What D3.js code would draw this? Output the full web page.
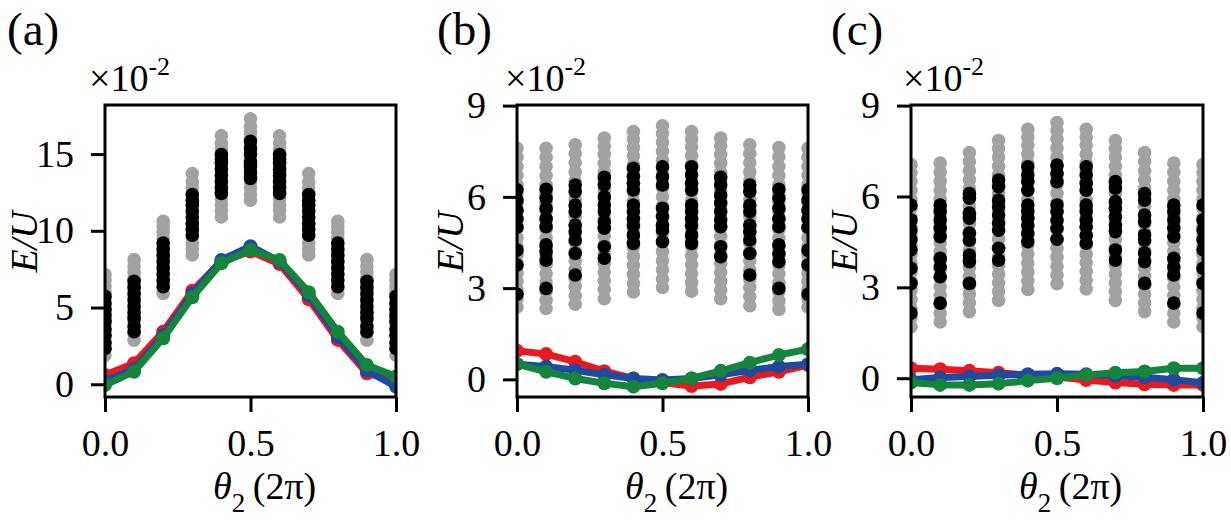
<!doctype html>
<html lang="en">
<head>
  <meta charset="utf-8">
  <script src="https://d3js.org/d3.v7.min.js"></script>
  <style>
    body { margin: 0; background: #fff; }
    text { font-family: "Liberation Serif", "DejaVu Serif", serif; }
  </style>
</head>
<body>
<script>
// theta_2 positions (units of 2 pi)
var theta = [0.0, 0.1, 0.2, 0.3, 0.4, 0.5, 0.6, 0.7, 0.8, 0.9, 1.0];

// ---- panel (a) ----
var grayA = [
  [1.9, 2.3, 2.7, 3.1, 3.5, 3.9, 4.3, 4.8, 5.2, 5.6, 6.0, 6.4, 6.8, 7.15],
  [2.87, 3.3, 3.7, 4.1, 4.5, 4.9, 5.3, 5.7, 6.1, 6.5, 6.9, 7.3, 7.7, 8.13],
  [5.92, 6.3, 6.7, 7.1, 7.5, 7.9, 8.3, 8.7, 9.1, 9.5, 9.9, 10.3, 10.62],
  [8.42, 8.8, 9.2, 9.6, 10.0, 10.4, 10.8, 11.2, 11.6, 12.0, 12.4, 12.8, 13.2, 13.73],
  [10.9, 11.3, 11.7, 12.1, 12.5, 12.9, 13.3, 13.7, 14.1, 14.5, 14.9, 15.3, 15.7, 16.2],
  [12.0, 12.4, 12.8, 13.2, 13.6, 14.0, 14.4, 14.8, 15.2, 15.6, 16.0, 16.4, 16.8, 17.3],
  [10.9, 11.35, 11.7, 12.1, 12.55, 12.9, 13.3, 13.75, 14.1, 14.5, 14.95, 15.3, 15.7, 16.2],
  [8.42, 8.8, 9.2, 9.65, 10.0, 10.4, 10.85, 11.2, 11.6, 12.0, 12.45, 12.8, 13.2, 13.73],
  [5.92, 6.3, 6.75, 7.1, 7.5, 7.95, 8.3, 8.7, 9.1, 9.5, 9.9, 10.3, 10.62],
  [2.87, 3.3, 3.7, 4.15, 4.5, 4.9, 5.35, 5.7, 6.1, 6.5, 6.9, 7.3, 7.7, 8.13],
  [1.9, 2.3, 2.7, 3.1, 3.55, 3.9, 4.3, 4.8, 5.2, 5.6, 6.0, 6.4, 6.8, 7.15]
];
var blackA = [
  [2.33, 2.7, 3.2, 3.6, 4.1, 4.5, 4.9, 5.3, 5.73],
  [3.42, 3.8, 4.3, 4.7, 5.1, 5.5, 5.9, 6.3, 6.71],
  [6.36, 6.8, 7.2, 7.6, 8.0, 8.4, 8.8, 9.21],
  [9.72, 10.1, 10.5, 10.9, 11.3, 11.7, 12.0, 12.37],
  [12.44, 12.8, 13.2, 13.6, 14.0, 14.4, 14.7, 14.97],
  [13.42, 13.8, 14.2, 14.5, 15.0, 15.4, 15.84],
  [12.44, 12.8, 13.2, 13.6, 14.0, 14.4, 14.7, 14.97],
  [9.72, 10.1, 10.5, 10.9, 11.3, 11.7, 12.0, 12.37],
  [6.36, 6.8, 7.2, 7.6, 8.0, 8.4, 8.8, 9.21],
  [3.42, 3.8, 4.3, 4.7, 5.1, 5.5, 5.9, 6.3, 6.71],
  [2.33, 2.7, 3.2, 3.6, 4.1, 4.5, 4.9, 5.3, 5.73]
];
var redA   = [0.6, 1.37, 3.43, 6.1, 8.0, 8.65, 7.83, 5.54, 2.89, 0.72, 0.17];
var blueA  = [0.2, 1.0, 3.2, 5.9, 8.1, 9.0, 8.0, 5.8, 3.1, 0.9, -0.15];
var greenA = [-0.05, 0.82, 3.0, 5.67, 7.89, 8.75, 8.1, 6.0, 3.43, 1.26, 0.5];

// ---- panel (b) ----
var grayB = [
  [2.38, 2.65, 2.95, 3.22, 3.5, 3.8, 4.08, 4.37, 4.66, 4.95, 5.24, 5.52, 5.8, 6.1, 6.4, 6.7, 7.0, 7.3, 7.6],
  [2.33, 2.6, 2.9, 3.2, 3.48, 3.78, 4.06, 4.35, 4.65, 4.94, 5.22, 5.52, 5.8, 6.1, 6.4, 6.7, 7.0, 7.3, 7.6],
  [2.47, 2.75, 3.05, 3.33, 3.62, 3.9, 4.2, 4.5, 4.78, 5.06, 5.35, 5.64, 5.93, 6.22, 6.52, 6.82, 7.12, 7.42, 7.71],
  [2.65, 2.95, 3.24, 3.53, 3.82, 4.12, 4.42, 4.72, 5.0, 5.3, 5.6, 5.9, 6.2, 6.5, 6.8, 7.1, 7.4, 7.67, 7.93],
  [2.87, 3.15, 3.45, 3.75, 4.05, 4.35, 4.65, 4.95, 5.25, 5.55, 5.85, 6.15, 6.45, 6.75, 7.05, 7.35, 7.62, 7.9, 8.15],
  [3.02, 3.3, 3.6, 3.9, 4.2, 4.5, 4.8, 5.1, 5.4, 5.7, 6.0, 6.3, 6.6, 6.9, 7.2, 7.5, 7.8, 8.08, 8.34],
  [2.9, 3.18, 3.47, 3.77, 4.06, 4.36, 4.66, 4.96, 5.26, 5.56, 5.86, 6.16, 6.46, 6.76, 7.06, 7.36, 7.64, 7.9, 8.15],
  [2.65, 2.94, 3.23, 3.52, 3.82, 4.12, 4.42, 4.71, 5.0, 5.3, 5.6, 5.9, 6.2, 6.5, 6.8, 7.1, 7.4, 7.68, 7.93],
  [2.42, 2.72, 3.02, 3.3, 3.6, 3.9, 4.18, 4.48, 4.77, 5.06, 5.35, 5.64, 5.93, 6.22, 6.52, 6.82, 7.12, 7.42, 7.71],
  [2.3, 2.58, 2.88, 3.18, 3.47, 3.76, 4.05, 4.34, 4.64, 4.93, 5.22, 5.51, 5.8, 6.1, 6.4, 6.7, 7.0, 7.32, 7.62],
  [2.38, 2.65, 2.95, 3.22, 3.5, 3.8, 4.08, 4.37, 4.66, 4.95, 5.24, 5.52, 5.8, 6.1, 6.4, 6.7, 7.0, 7.3, 7.6]
];
var blackB = [
  [2.8, 3.76, 4.25, 5.0, 5.29, 5.57, 5.9, 6.23],
  [2.99, 3.92, 4.2, 4.42, 5.02, 5.29, 5.62, 5.95, 6.25],
  [3.43, 4.14, 4.58, 4.86, 5.07, 5.51, 5.73, 6.17, 6.39],
  [3.98, 4.36, 4.97, 5.18, 5.51, 5.73, 6.0, 6.39, 6.64],
  [4.47, 4.75, 5.07, 5.29, 5.51, 5.73, 6.23, 6.45, 6.67, 6.94],
  [4.53, 4.91, 5.07, 5.35, 5.62, 6.39, 6.67, 6.99],
  [4.47, 4.75, 5.07, 5.29, 5.51, 5.73, 6.23, 6.45, 6.72, 6.99],
  [4.03, 4.36, 5.02, 5.24, 5.51, 5.79, 6.06, 6.39, 6.64],
  [3.43, 4.14, 4.58, 4.86, 5.07, 5.51, 5.73, 6.17, 6.39],
  [2.99, 3.87, 4.14, 4.42, 5.02, 5.29, 5.62, 5.95, 6.25],
  [2.8, 3.76, 4.25, 5.0, 5.29, 5.57, 5.9, 6.23]
];
var redB   = [0.94, 0.83, 0.58, 0.27, 0.03, -0.11, -0.22, -0.15, 0.07, 0.25, 0.47];
var blueB  = [0.5, 0.42, 0.3, 0.15, 0.03, -0.02, 0.03, 0.15, 0.3, 0.42, 0.5];
var greenB = [0.5, 0.25, 0.03, -0.13, -0.24, -0.13, 0.03, 0.28, 0.55, 0.8, 0.99];

// ---- panel (c) ----
var grayC = [
  [1.7, 2.0, 2.3, 2.6, 2.9, 3.2, 3.5, 3.8, 4.1, 4.4, 4.7, 5.0, 5.3, 5.6, 5.9, 6.2, 6.5, 6.78, 7.05],
  [1.86, 2.15, 2.44, 2.73, 3.02, 3.31, 3.6, 3.89, 4.18, 4.47, 4.76, 5.05, 5.34, 5.63, 5.92, 6.21, 6.5, 6.8, 7.1],
  [2.2, 2.49, 2.78, 3.07, 3.36, 3.65, 3.94, 4.23, 4.52, 4.81, 5.1, 5.39, 5.68, 5.97, 6.26, 6.55, 6.85, 7.15, 7.45],
  [2.57, 2.86, 3.15, 3.44, 3.73, 4.02, 4.31, 4.6, 4.9, 5.2, 5.5, 5.8, 6.1, 6.4, 6.7, 7.0, 7.3, 7.58, 7.85],
  [2.93, 3.22, 3.51, 3.8, 4.1, 4.4, 4.7, 5.0, 5.3, 5.6, 5.9, 6.2, 6.5, 6.8, 7.1, 7.4, 7.7, 7.96, 8.22],
  [3.12, 3.41, 3.7, 4.0, 4.3, 4.6, 4.9, 5.2, 5.5, 5.8, 6.1, 6.4, 6.7, 7.0, 7.3, 7.6, 7.9, 8.18, 8.44],
  [2.95, 3.24, 3.53, 3.82, 4.1, 4.4, 4.7, 5.0, 5.3, 5.6, 5.9, 6.2, 6.5, 6.8, 7.1, 7.4, 7.7, 7.96, 8.22],
  [2.57, 2.86, 3.15, 3.44, 3.73, 4.02, 4.31, 4.6, 4.9, 5.2, 5.5, 5.8, 6.1, 6.4, 6.7, 7.0, 7.3, 7.58, 7.85],
  [2.2, 2.49, 2.78, 3.07, 3.36, 3.65, 3.94, 4.23, 4.52, 4.81, 5.1, 5.39, 5.68, 5.97, 6.26, 6.55, 6.85, 7.15, 7.45],
  [1.86, 2.15, 2.44, 2.73, 3.02, 3.31, 3.6, 3.89, 4.18, 4.47, 4.76, 5.05, 5.34, 5.63, 5.92, 6.21, 6.5, 6.8, 7.1],
  [1.7, 2.0, 2.3, 2.6, 2.9, 3.2, 3.5, 3.8, 4.1, 4.4, 4.7, 5.0, 5.3, 5.6, 5.9, 6.2, 6.5, 6.78, 7.05]
];
var blackC = [
  [2.15, 3.13, 3.63, 4.24, 4.57, 4.89, 5.22, 5.72],
  [2.48, 3.35, 3.68, 3.96, 4.67, 4.95, 5.22, 5.5, 5.72],
  [3.13, 3.85, 4.07, 4.56, 4.79, 5.28, 5.45, 5.94, 6.1],
  [3.9, 4.29, 4.89, 5.12, 5.39, 5.66, 5.88, 6.32, 6.54],
  [4.51, 4.79, 5.06, 5.28, 5.5, 5.72, 6.21, 6.49, 6.71, 6.98],
  [4.59, 4.95, 5.22, 5.5, 5.72, 6.49, 6.77, 7.04],
  [4.46, 4.73, 5.0, 5.22, 5.5, 5.72, 6.21, 6.43, 6.71, 6.98],
  [3.9, 4.23, 4.84, 5.06, 5.33, 5.61, 5.83, 6.27, 6.49],
  [3.13, 3.85, 4.13, 4.56, 4.73, 5.17, 5.39, 5.88, 6.1],
  [2.48, 3.41, 3.68, 3.96, 4.67, 4.95, 5.22, 5.5, 5.72],
  [2.15, 3.13, 3.63, 4.24, 4.57, 4.89, 5.22, 5.72]
];
var redC   = [0.33, 0.3, 0.25, 0.18, 0.1, 0.04, -0.06, -0.14, -0.2, -0.22, -0.22];
var blueC  = [-0.05, 0.02, 0.06, 0.1, 0.13, 0.15, 0.13, 0.08, 0.03, -0.05, -0.15];
var greenC = [-0.14, -0.22, -0.22, -0.18, -0.08, 0.0, 0.11, 0.18, 0.22, 0.33, 0.33];

var yTicksA = [0, 5, 10, 15];
var yTicksBC = [0, 3, 6, 9];
var xTicks = [0.0, 0.5, 1.0];

var width = 1231, height = 526;
var top0 = 105, bottom0 = 397;

var panels = [
  { label: "(a)", lx: 7, x0: 105, x1: 396, ydom: [-0.83, 18.2], yticks: yTicksA,
    gray: grayA, black: blackA, red: redA, blue: blueA, green: greenA, ylx: 37, offx: 89 },
  { label: "(b)", lx: 437, x0: 517, x1: 808, ydom: [-0.58, 9.02], yticks: yTicksBC,
    gray: grayB, black: blackB, red: redB, blue: blueB, green: greenB, ylx: 463, offx: 505 },
  { label: "(c)", lx: 831, x0: 911, x1: 1203, ydom: [-0.62, 9.02], yticks: yTicksBC,
    gray: grayC, black: blackC, red: redC, blue: blueC, green: greenC, ylx: 857, offx: 903 }
];

var colors = { gray: "#a2a2a2", black: "#000000", red: "#e8191f", blue: "#2049a0", green: "#15843c" };

var svg = d3.select("body").append("svg")
    .attr("width", width)
    .attr("height", height);

panels.forEach(function(p, k) {
  var x = d3.scaleLinear().domain([0, 1]).range([p.x0, p.x1]);
  var y = d3.scaleLinear().domain(p.ydom).range([bottom0, top0]);

  // clip to the axes box
  svg.append("clipPath").attr("id", "clip" + k)
    .append("rect")
      .attr("x", p.x0).attr("y", top0)
      .attr("width", p.x1 - p.x0).attr("height", bottom0 - top0);

  var g = svg.append("g").attr("clip-path", "url(#clip" + k + ")");

  // flatten the columns into points
  function flat(cols) {
    var pts = [];
    cols.forEach(function(col, i) {
      col.forEach(function(v) { pts.push([theta[i], v]); });
    });
    return pts;
  }

  g.selectAll("circle.gray")
      .data(flat(p.gray))
    .enter().append("circle")
      .attr("class", "gray")
      .attr("cx", function(d) { return x(d[0]); })
      .attr("cy", function(d) { return y(d[1]); })
      .attr("r", 6.8)
      .style("fill", colors.gray);

  g.selectAll("circle.black")
      .data(flat(p.black))
    .enter().append("circle")
      .attr("class", "black")
      .attr("cx", function(d) { return x(d[0]); })
      .attr("cy", function(d) { return y(d[1]); })
      .attr("r", 6.8)
      .style("fill", colors.black);

  var line = d3.line()
      .x(function(d, i) { return x(theta[i]); })
      .y(function(d) { return y(d); });

  ["red", "blue", "green"].forEach(function(name) {
    var vals = p[name];
    g.append("path")
      .datum(vals)
      .attr("d", line)
      .style("fill", "none")
      .style("stroke", colors[name])
      .style("stroke-width", 7)
      .style("stroke-linejoin", "round");
    g.selectAll("circle." + name)
        .data(vals)
      .enter().append("circle")
        .attr("class", name)
        .attr("cx", function(d, i) { return x(theta[i]); })
        .attr("cy", function(d) { return y(d); })
        .attr("r", 7)
        .style("fill", colors[name]);
  });

  // frame
  svg.append("rect")
    .attr("x", p.x0).attr("y", top0)
    .attr("width", p.x1 - p.x0).attr("height", bottom0 - top0)
    .style("fill", "none")
    .style("stroke", "#000")
    .style("stroke-width", 3);

  // axes
  var yAxis = d3.axisLeft(y).tickValues(p.yticks).tickSize(14).tickPadding(17)
      .tickFormat(d3.format("d"));
  var xAxis = d3.axisBottom(x).tickValues(xTicks).tickSize(15).tickPadding(17)
      .tickFormat(d3.format(".1f"));

  var ya = svg.append("g").attr("transform", "translate(" + p.x0 + ",0)").call(yAxis);
  var xa = svg.append("g").attr("transform", "translate(0," + bottom0 + ")").call(xAxis);

  [ya, xa].forEach(function(a) {
    a.attr("font-family", null).attr("font-size", null);
    a.select(".domain").remove();
    a.selectAll(".tick line").style("stroke", "#000").style("stroke-width", 3);
    a.selectAll(".tick text")
      .style("font-family", "'Liberation Serif', serif")
      .style("font-size", "38px")
      .style("fill", "#000");
  });

  // y label
  svg.append("text")
    .attr("transform", "translate(" + p.ylx + ",242) rotate(-90)")
    .attr("text-anchor", "middle")
    .style("font-size", "38px")
    .style("font-style", "italic")
    .text("E/U");

  // x label
  var xl = svg.append("text")
    .attr("x", p.x0 + 108)
    .attr("y", 499)
    .style("font-size", "38px");
  xl.append("tspan").style("font-style", "italic").text("\u03b8");
  xl.append("tspan").attr("dy", 13).style("font-size", "27px").text("2");
  xl.append("tspan").attr("dy", -13).text("\u2009(2\u03c0)");

  // offset text
  var ot = svg.append("text")
    .attr("x", p.offx)
    .attr("y", 91)
    .style("font-size", "38px");
  ot.append("tspan").text("\u00d710");
  ot.append("tspan").attr("dy", -16).style("font-size", "26px").text("-2");

  // panel label
  svg.append("text")
    .attr("x", p.lx)
    .attr("y", 45)
    .style("font-size", "47px")
    .text(p.label);
});
</script>
</body>
</html>
